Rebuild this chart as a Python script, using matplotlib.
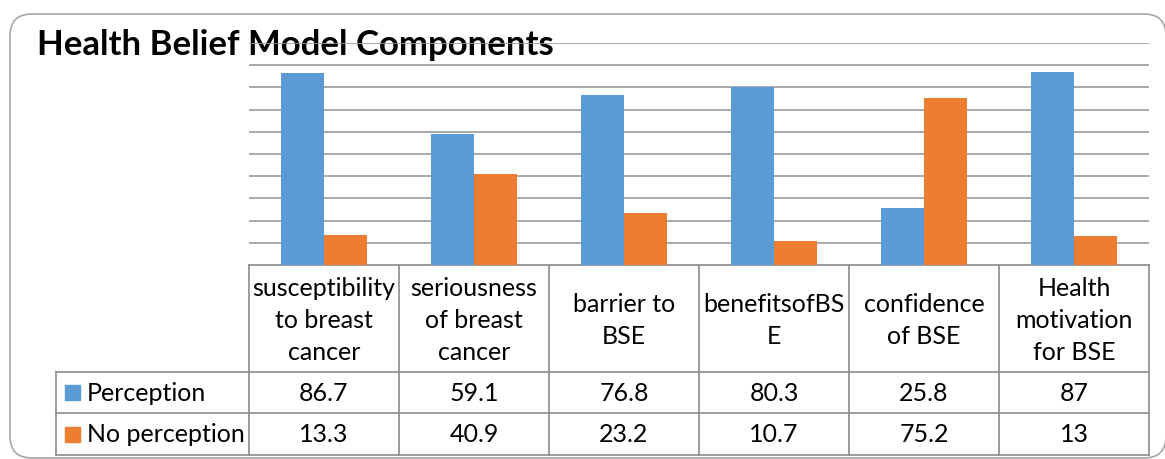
import matplotlib
matplotlib.use("Agg")
import matplotlib.pyplot as plt
from matplotlib.patches import FancyBboxPatch, Rectangle
import numpy as np

# ---- data ----
categories = ["susceptibility\nto breast\ncancer", "seriousness\nof breast\ncancer",
              "barrier to\nBSE", "benefitsofBS\nE", "confidence\nof BSE",
              "Health\nmotivation\nfor BSE"]
perception = [86.7, 59.1, 76.8, 80.3, 25.8, 87]
no_perception = [13.3, 40.9, 23.2, 10.7, 75.2, 13]
perception_labels = ["86.7", "59.1", "76.8", "80.3", "25.8", "87"]
no_perception_labels = ["13.3", "40.9", "23.2", "10.7", "75.2", "13"]
series_names = ["Perception", "No perception"]
title = "Health Belief Model Components"

BLUE = "#5B9BD5"
ORANGE = "#ED7D31"
GRID = "#9a9a9a"
TABLE = "#8c8c8c"
FONT = "Lato"

W, H = 1165, 460
fig = plt.figure(figsize=(W / 100, H / 100), dpi=100)
fig.patch.set_facecolor("white")

# layout (pixels, from top-left)
plot_left, plot_right = 249, 1149
plot_top, plot_bottom = 44, 266
legend_left = 56
row_tops = [266, 373, 414, 456]

# overlay axes in pixel coords
ov = fig.add_axes([0, 0, 1, 1])
ov.set_xlim(0, W)
ov.set_ylim(H, 0)
ov.axis("off")

# rounded chart border
border = FancyBboxPatch((10, 15), 1166 - 10, 459 - 15,
                        boxstyle="round,pad=0,rounding_size=22",
                        fc="none", ec="#a6a6a6", lw=1.2, clip_on=False, zorder=0)
ov.add_patch(border)

# bar axes
ax = fig.add_axes([plot_left / W, (H - plot_bottom) / H,
                   (plot_right - plot_left) / W, (plot_bottom - plot_top) / H])
ax.set_facecolor("none")
n = len(categories)
x = np.arange(n)
bw = 0.285
ax.bar(x - bw / 2, perception, bw, color=BLUE, zorder=3)
ax.bar(x + bw / 2, no_perception, bw, color=ORANGE, zorder=3)
ax.set_xlim(-0.5, n - 0.5)
ax.set_ylim(0, 100)
ax.set_yticks(np.arange(0, 101, 10))
ax.yaxis.grid(True, color=GRID, lw=1.2, zorder=0)
ax.set_axisbelow(True)
ax.tick_params(left=False, bottom=False, labelleft=False, labelbottom=False)
for s in ax.spines.values():
    s.set_visible(False)

# title
ov.text(37, 45, title, fontsize=25, fontweight="bold", family=FONT,
        va="center", ha="left", color="black", zorder=5)

# data table
col_w = (plot_right - plot_left) / n
lw_t = 1.2
ov.plot([plot_left, plot_right], [row_tops[0], row_tops[0]], color=TABLE, lw=lw_t)
for i in range(n + 1):
    xx = plot_left + i * col_w
    ov.plot([xx, xx], [row_tops[0], row_tops[3]], color=TABLE, lw=lw_t)
ov.plot([legend_left, legend_left], [row_tops[1], row_tops[3]], color=TABLE, lw=lw_t)
for yy in row_tops[1:]:
    ov.plot([legend_left, plot_right], [yy, yy], color=TABLE, lw=lw_t)

fs = 18
for i, c in enumerate(categories):
    cx = plot_left + (i + 0.5) * col_w
    ov.text(cx, (row_tops[0] + row_tops[1]) / 2 + 1, c, ha="center", va="center",
            fontsize=fs, family=FONT, linespacing=1.45)
    ov.text(cx, (row_tops[1] + row_tops[2]) / 2, perception_labels[i],
            ha="center", va="center", fontsize=fs, family=FONT)
    ov.text(cx, (row_tops[2] + row_tops[3]) / 2, no_perception_labels[i],
            ha="center", va="center", fontsize=fs, family=FONT)

for r, (name, col) in enumerate(zip(series_names, [BLUE, ORANGE])):
    cy = (row_tops[r + 1] + row_tops[r + 2]) / 2
    ov.add_patch(Rectangle((65, cy - 7.5), 15, 15, color=col))
    ov.text(87, cy, name, ha="left", va="center", fontsize=fs, family=FONT)

fig.savefig("out.png", dpi=100, facecolor="white")
